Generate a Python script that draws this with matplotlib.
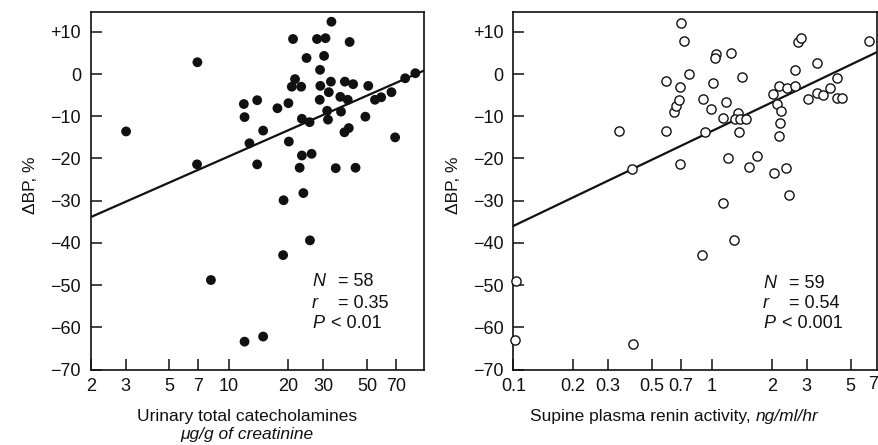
import numpy as np
import matplotlib.pyplot as plt
from matplotlib.ticker import NullLocator, FixedLocator, FixedFormatter

plt.rcParams['font.family'] = ['Liberation Sans', 'DejaVu Sans']

# left panel: urinary total catecholamines (ug/g creatinine) vs change in BP (%)
cat_x = [3.02, 6.93, 6.9, 8.11, 11.9, 12.0, 12.7, 12.0, 13.9, 13.9,
         14.9, 14.9, 17.6, 20.0, 20.1, 18.9, 18.8, 21.1, 21.6, 20.8,
         23.2, 24.7, 23.4, 25.6, 22.8, 23.4, 26.2, 23.8, 25.7, 27.9,
         30.8, 30.3, 28.9, 29.0, 28.8, 33.0, 32.8, 32.0, 31.4, 31.7,
         36.9, 34.7, 36.6, 38.6, 39.9, 40.8, 42.5, 38.4, 40.4, 43.7,
         49.0, 50.7, 54.8, 58.9, 66.4, 69.3, 77.9, 87.7]
cat_y = [-13.6, 2.8, -21.4, -48.8, -7.1, -10.2, -16.4, -63.4, -6.2, -21.4,
         -13.4, -62.2, -8.1, -6.9, -16.0, -29.9, -42.9, 8.3, -1.2, -3.0,
         -3.0, 3.8, -10.6, -11.4, -22.2, -19.3, -18.9, -28.2, -39.4, 8.3,
         8.5, 4.3, 1.0, -2.8, -6.1, 12.4, -1.8, -4.3, -8.7, -10.8,
         -8.9, -22.3, -5.4, -1.8, -6.1, 7.6, -2.4, -13.8, -12.8, -22.2,
         -10.1, -2.8, -6.1, -5.5, -4.3, -15.0, -1.0, 0.2]

# right panel: supine plasma renin activity (ng/ml/hr) vs change in BP (%)
renin_x = [0.103, 0.102, 0.342, 0.398, 0.400, 0.586, 0.586, 0.641, 0.658, 0.684,
           0.692, 0.687, 0.698, 0.725, 0.763, 0.901, 0.922, 0.891, 0.989, 1.012,
           1.051, 1.031, 1.137, 1.137, 1.181, 1.247, 1.204, 1.286, 1.352, 1.368,
           1.417, 1.531, 1.687, 1.301, 1.379, 1.484, 2.03, 2.05, 2.13, 2.17,
           2.17, 2.21, 2.23, 2.35, 2.39, 2.44, 2.63, 2.63, 2.70, 2.82,
           3.04, 3.38, 3.38, 3.63, 3.92, 4.27, 4.24, 4.52, 6.17]
renin_y = [-49.0, -62.9, -13.5, -22.5, -63.9, -1.7, -13.5, -9.0, -7.6, -6.2,
           -3.0, -21.4, 12.2, 7.9, 0.0, -6.0, -13.7, -42.9, -8.2, -2.2,
           4.7, 3.8, -10.3, -30.5, -6.6, 4.9, -19.8, -39.2, -9.2, -13.7,
           -0.8, -22.1, -19.5, -10.7, -10.7, -10.7, -4.8, -23.5, -7.2, -2.9,
           -14.7, -11.6, -8.7, -22.2, -3.2, -28.7, 0.9, -2.9, 7.6, 8.6,
           -6.0, 2.7, -4.6, -4.9, -3.2, -1.0, -5.6, -5.6, 7.9]

# regression lines: intercept, slope per decade of x
cat_fit = (-40.1, 20.6)
renin_fit = (-13.5, 22.5)

yticks = [10, 0, -10, -20, -30, -40, -50, -60, -70]
ytick_labels = ['+10', '0', '\u221210', '\u221220', '\u221230',
                '\u221240', '\u221250', '\u221260', '\u221270']
cat_xticks = [2, 3, 5, 7, 10, 20, 30, 50, 70]
renin_xticks = [0.1, 0.2, 0.3, 0.5, 0.7, 1, 2, 3, 5]
renin_xtick_labels = ['0.1', '0.2', '0.3', '0.5', '0.7', '1', '2', '3', '5']

INK = '#111111'
W, H = 879, 445
fig = plt.figure(figsize=(W / 100, H / 100), dpi=100)
ax1 = fig.add_axes([90.7 / W, 1 - 369.5 / H, 333.3 / W, 357.5 / H])
ax2 = fig.add_axes([513.3 / W, 1 - 369.5 / H, 364 / W, 357.5 / H])


def style(ax, xticks, xlabels, xlim):
    ax.set_xscale('log')
    ax.set_xlim(*xlim)
    ax.set_ylim(-70, 14.7)
    ax.xaxis.set_major_locator(FixedLocator(xticks))
    ax.xaxis.set_major_formatter(FixedFormatter(xlabels))
    ax.xaxis.set_minor_locator(NullLocator())
    ax.set_yticks(yticks)
    ax.set_yticklabels(ytick_labels)
    ax.tick_params(axis='both', direction='in', length=8, width=1.1,
                   labelsize=13, colors=INK)
    ax.tick_params(axis='y', pad=7)
    ax.tick_params(axis='x', pad=6)
    for s in ax.spines.values():
        s.set_linewidth(1.2)
        s.set_color(INK)
    ax.set_ylabel('\u0394BP, %', fontsize=12.5, color=INK)


def fit_line(ax, fit, xlim):
    a, b = fit
    xs = np.array(xlim, dtype=float)
    ax.plot(xs, a + b * np.log10(xs), color=INK, lw=1.6, zorder=2)


# left panel
style(ax1, cat_xticks, [str(t) for t in cat_xticks], (2, 97))
ax1.scatter(cat_x, cat_y, s=50, color=INK, edgecolors='none', zorder=3,
            clip_on=False)
fit_line(ax1, cat_fit, (2, 97))
ax1.yaxis.set_label_coords(-0.158, 0.515)

# right panel
style(ax2, renin_xticks, renin_xtick_labels, (0.1, 6.8))
ax2.scatter(renin_x, renin_y, s=44, facecolors='white', edgecolors=INK,
            linewidths=1.0, zorder=3, clip_on=False)
fit_line(ax2, renin_fit, (0.1, 6.8))
ax2.yaxis.set_label_coords(-0.145, 0.515)
# the "7" tick label sits at the right border of the picture
ax2.text(878 / W, 1 - 376 / H, '7', transform=fig.transFigure, ha='right',
         va='top', fontsize=13, color=INK, clip_on=False)

# axis titles
fig.text(247 / W, 1 - 416 / H, 'Urinary total catecholamines', ha='center',
         va='center', fontsize=12.5, color=INK)
fig.text(247 / W, 1 - 434 / H, '\u03bcg/g of creatinine', ha='center',
         va='center', fontsize=12.5, style='italic', color=INK)
t = fig.text(530 / W, 1 - 416 / H, 'Supine plasma renin activity,',
             ha='left', va='center', fontsize=12.5, color=INK)
ax2.annotate('ng/ml/hr', xy=(1, 0), xycoords=t, xytext=(4, 0),
             textcoords='offset points', va='bottom', ha='left',
             fontsize=12.5, style='italic', color=INK, annotation_clip=False)

# statistics
stats = [
    (312, 338, [('N', '= 58', 282), ('r', '= 0.35', 303), ('P', '< 0.01', 323)]),
    (763, 789, [('N', '= 59', 283), ('r', '= 0.54', 303), ('P', '< 0.001', 323)]),
]
for xl, xv, rows in stats:
    for letter, val, y in rows:
        fig.text(xl / W, 1 - y / H, letter, style='italic', fontsize=13,
                 va='center', ha='left', color=INK)
        x_off = xv if val.startswith('=') else xv - 7
        fig.text(x_off / W, 1 - y / H, val, fontsize=13, va='center',
                 ha='left', color=INK)

fig.savefig('out.png', dpi=100)
